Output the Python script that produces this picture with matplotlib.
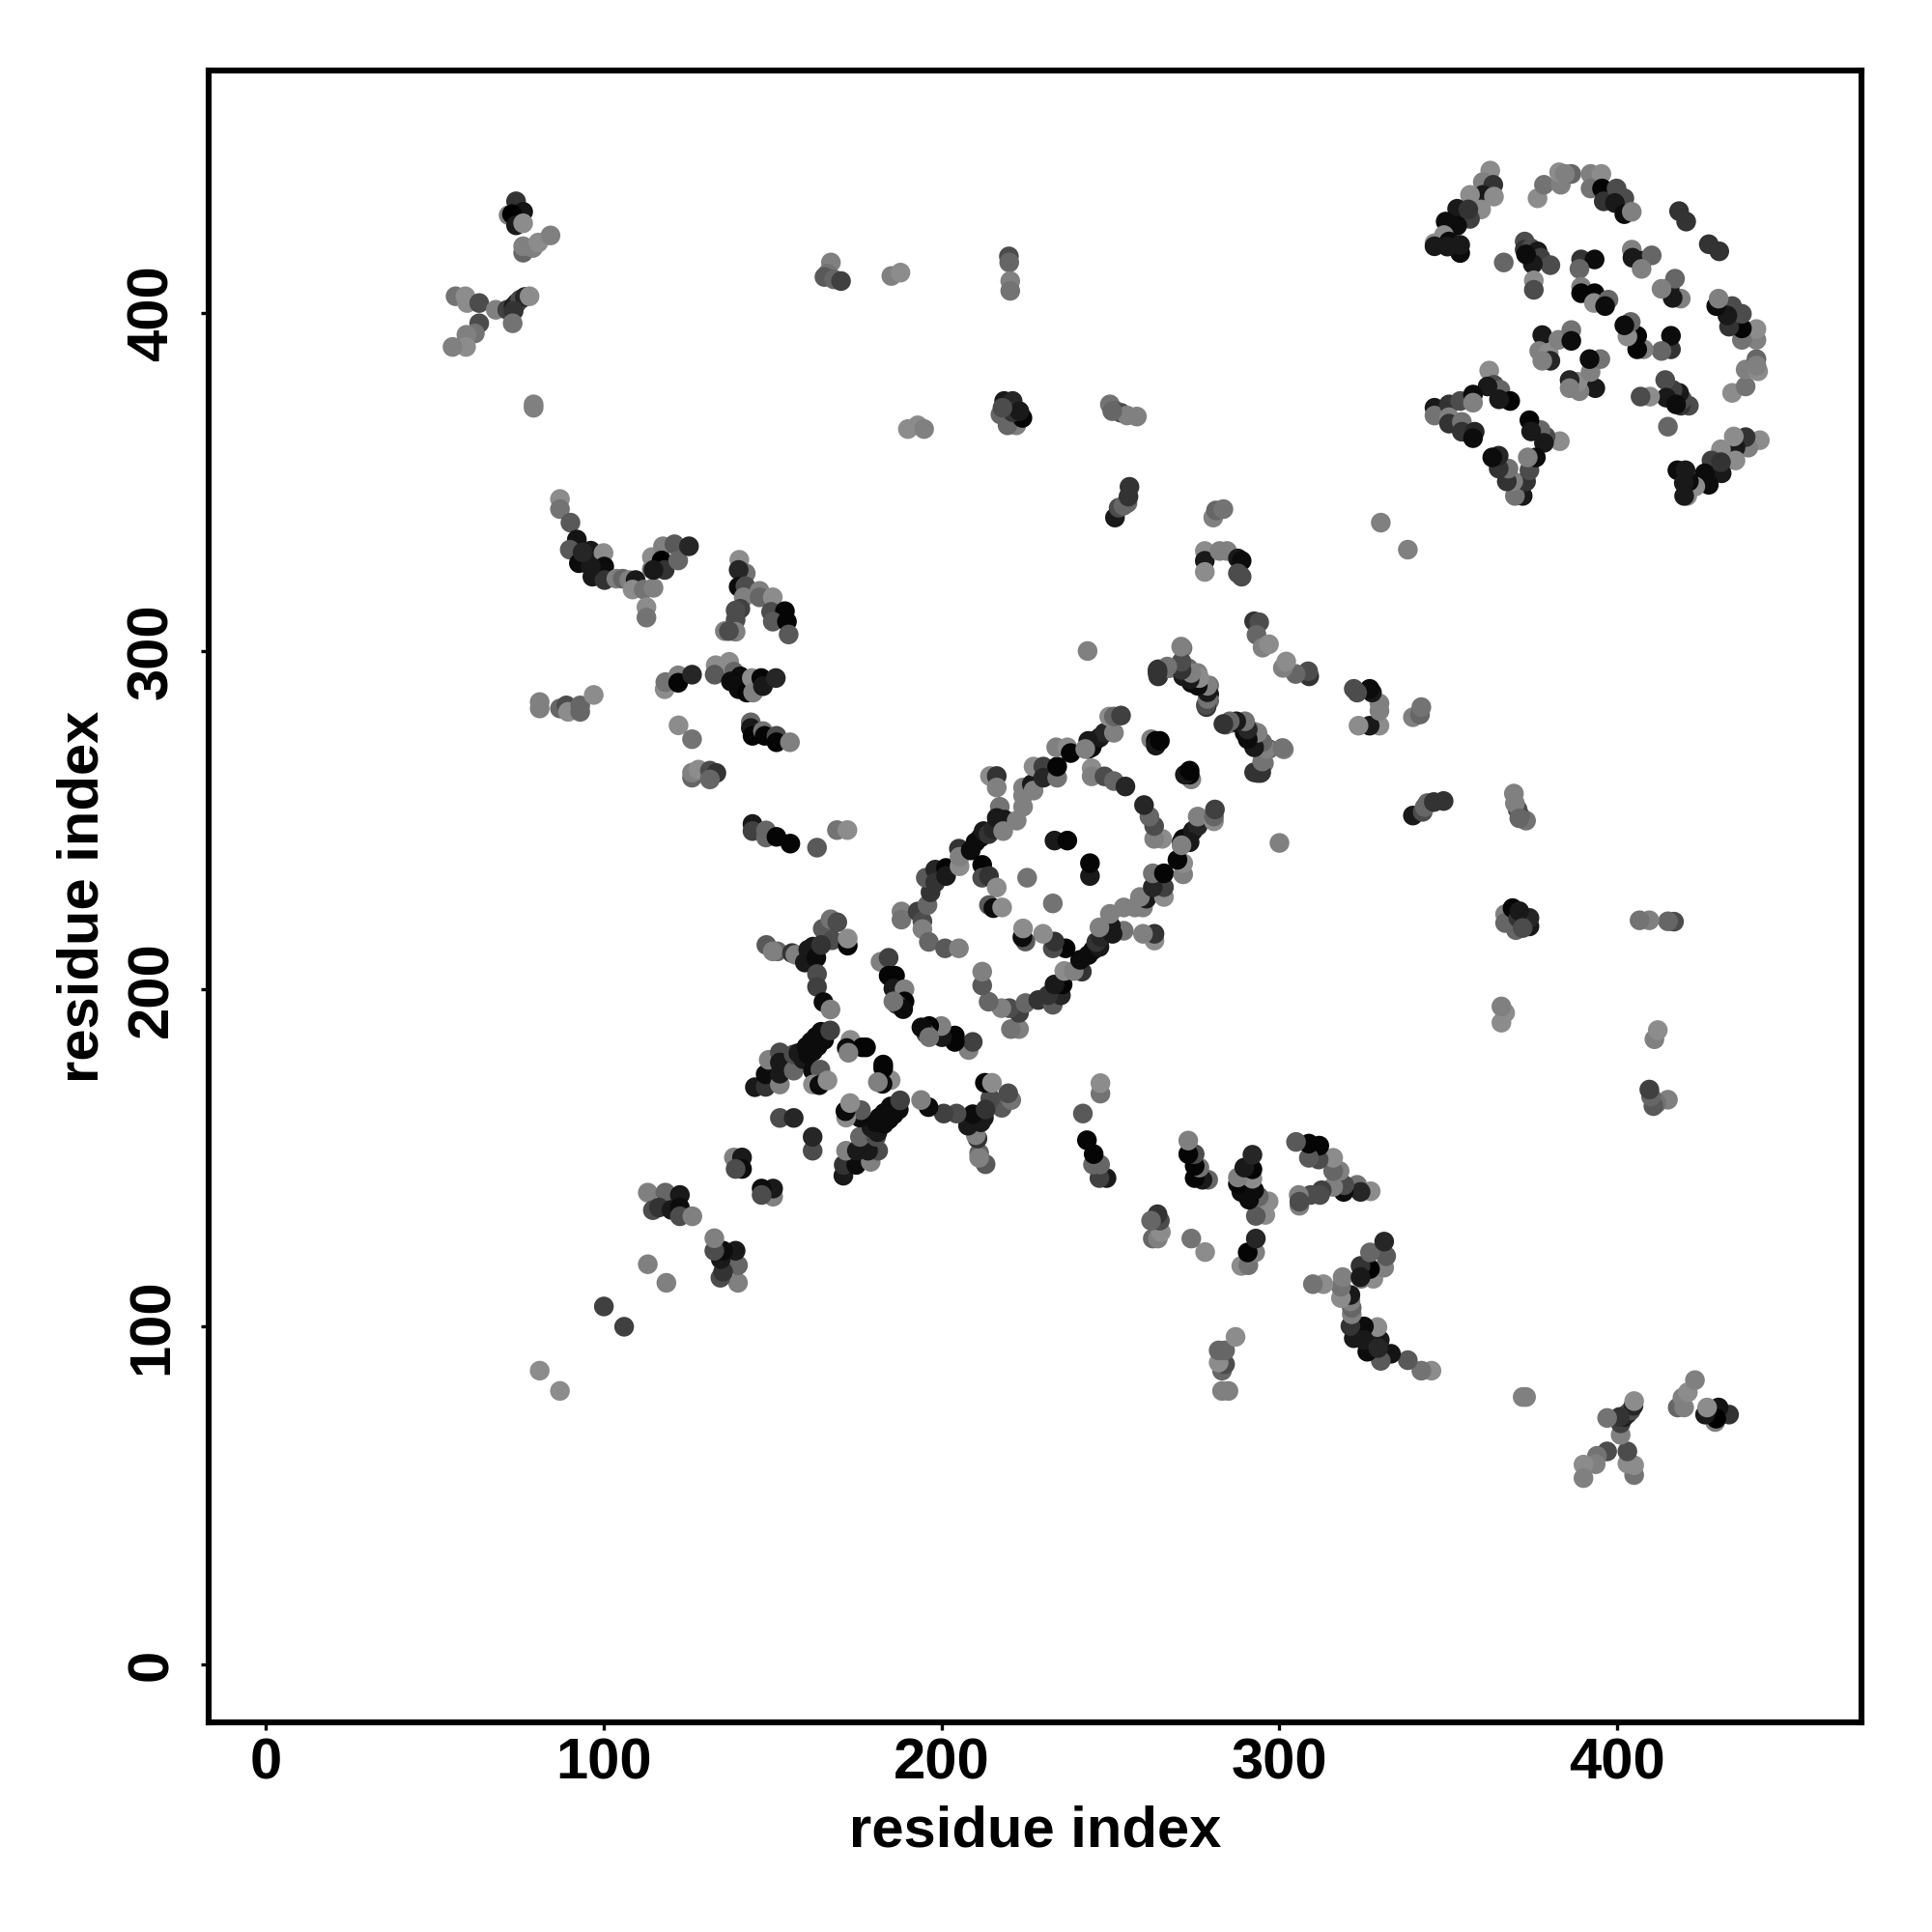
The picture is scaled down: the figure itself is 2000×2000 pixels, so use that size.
import matplotlib
matplotlib.use("Agg")
import matplotlib.pyplot as plt
import numpy as np

res_i = [
    74, 76.1, 71.8, 72.8, 74, 76.1, 76.1, 76.1, 79, 80.6, 84.2,
    56.1, 59, 59.5, 63.1, 68, 71.4, 73.3, 74.2, 75.2, 76.6, 78, 73.3, 73, 63.1, 61.8, 59.3, 59.2, 55.2,
    79.2, 79.2,
    167.2, 166.2, 165.3, 168.1, 170.2, 185.1, 187.8,
    87, 87, 90.1, 92, 89.9, 92.6, 96.1, 96.6, 99.9, 100.1, 100.2, 96.1, 93.7,
    103.7, 105.6, 107.5, 109.4, 108.5, 111.8, 114.7, 112.6, 112.6,
    114.2, 114.2, 117.5, 117.1, 118, 120.9, 122, 125.2, 114.7,
    140.1, 142, 139.9, 139.9, 141.9, 141.4, 146.1, 146.1, 150, 140.4, 139, 139, 135.8, 139, 137,
    149.5, 153.6, 150, 154.2, 154.7,
    118, 118.2, 122, 122, 126.1,
    133.1, 132.8, 137.1, 138.5, 137.6, 140.4, 139.9, 142.3, 143.8, 144.2, 146.6, 147.1, 150.9,
    81, 81, 87, 88.9, 89.4, 93, 93, 97,
    122.1, 126.1,
    143.5, 143.5, 144, 147.1, 147.6, 151.1, 151.1, 155.1,
    126.1, 126.1, 128, 131.4, 133.3, 131.4,
    144, 144, 148, 148, 151.1, 155.2, 163.1, 169, 172.1,
    219.9, 220, 220.3, 220.3,
    190, 192.9, 194.8,
    217.4, 218.5, 221, 222.1, 219.5, 223.9, 221, 223, 218,
    249.8, 251.3, 253.1, 254.9, 257.8, 250.5,
    251.3, 252.4, 253.8, 255, 255.6, 255.3,
    280.4, 281.2, 283.4,
    330,
    277.9, 277.9, 277.9, 282.3, 284.5, 287.7, 288.8, 287.7, 288.8,
    292.5, 294, 293.2, 295, 296.9,
    243.2,
    264.1, 264.1, 267.3, 271, 273, 271.5, 275.8, 273.9, 276.8, 279.2, 279.2, 279.2, 278.4, 271.3,
    284, 285.8, 287.8, 289.7, 289.7, 292, 291.6, 293.5, 294.4, 296.8, 301.3, 295.4, 294.4, 293.5,
    148.1, 151.4, 150, 155.7, 156.7, 159.5, 160.5, 161.9, 162.9, 163.1, 163.1, 164.8, 167.1, 169.1, 167.6, 172.2, 172.2, 164.3,
    165, 167.1,
    144.7, 147.9, 147.9, 148.8, 152.1, 152.1, 152.1, 152.1, 156.2, 156.2, 157.6, 159, 160, 160.5, 161.4, 161.9, 162.8, 163.3, 164.3, 165.2, 167,
    161.9, 164.1, 161.9, 163.8, 166.2,
    173, 171.9, 176.5, 177.6, 172.4,
    152.1, 156.2,
    138.5, 140.9, 140.9, 139,
    181.9, 184.3, 184.3, 186.2, 185.7, 189, 189, 186.7, 188.6, 185.7,
    188.1, 188.1, 192.9, 194.3, 194.3, 196.2, 201, 205.1,
    195.8, 196.7, 195.3, 198.1, 201.3, 198.1, 201.3, 205.3, 205.1, 205.3, 208.6, 210, 211.5, 212.4, 213.9, 215.3,
    217.2, 216.3, 218.6, 218.2, 222.2,
    212, 212, 214, 216.3, 214, 215.3, 217.9,
    214.3, 216.3, 216.3,
    224.1, 224.1, 224.1, 226.7, 227.2, 227.2, 230.1, 230.1, 234.2, 234.2, 233.9, 237.2, 238.2,
    243.4, 245.3, 244.4, 246.8, 248.2, 251, 249.6, 251, 253.1, 243.4, 242.5,
    244.4, 244.4, 248.2, 251, 254.4,
    262, 263.4, 263.4, 264.6,
    233.4, 237.2, 225.3,
    113, 114.5, 118.2, 116.3, 120, 122.5, 122.5, 122.5, 126.2,
    100, 113, 81,
    362.4, 360.2, 363.3, 360.2, 363.5, 356.4, 359.7, 352.6, 356.4, 355.9, 349.2, 352.6, 348.7, 345.9, 350.2, 345.9, 353.5, 353.5, 349.7,
    376.4, 378.3, 383.3, 382.8, 386.4, 384.5,
    392.1, 395.3, 392.1, 395.5, 396, 399.8, 402.1, 399.3, 402.1, 404.3,
    418.3, 420.4,
    366.4, 372.6, 372.6, 374.5, 376.4, 377.3, 380.2, 375, 375.3, 375.3, 373,
    389.3, 393.3, 388.8, 389.3, 389.3, 393.3, 393.1, 397.4, 396.4,
    404.3, 404.5, 407.4, 410.2, 407.2,
    377.8, 376.9, 379.7, 380.2, 377.8, 382.6, 386.4, 386.4,
    362.1, 363.5, 365.4, 368.3, 361.6, 365,
    345.9, 345.9, 350.2, 350.2, 353.5, 357.3, 357.3, 350.2, 354, 354, 357.8, 357.3,
]
res_j = [
    433.1, 430, 429, 429.3, 426, 426.6, 417.9, 419.8, 419.3, 420.9, 423,
    405, 405, 403, 403, 401, 401, 402, 403, 404, 404.8, 405, 400.7, 397, 397, 394, 393.6, 390, 390,
    373, 372,
    415, 411.7, 410.7, 410, 409.5, 411, 412,
    345, 342, 338, 333, 330, 326, 329.7, 322, 329, 325, 321, 325, 329.2,
    321.4, 321.4, 321, 321, 318.2, 318.2, 318.7, 313, 309.9,
    324.2, 327.8, 331, 326.8, 324, 331.6, 326.8, 331, 324,
    327, 323, 324, 319, 319.2, 315.9, 317.8, 315.9, 315.9, 312.5, 312, 309.2, 305.9, 305.7, 305.9,
    311.6, 311.8, 308.7, 308.7, 304.9,
    288.7, 290.8, 292.8, 290.6, 293,
    295.8, 293, 296.8, 293.9, 291, 292.5, 288.7, 287.7, 292, 287.7, 292, 289.6, 292,
    284.9, 283, 283, 283.9, 282, 283.9, 282, 287,
    278, 273.9,
    278.9, 277.2, 274.9, 276.3, 274.9, 274.9, 273, 273,
    262.5, 264, 264.9, 264.6, 263.9, 262,
    248.8, 246.7, 246.9, 244.8, 245, 243, 241.8, 247, 247,
    416.8, 415, 409.5, 406.6,
    365.7, 366.8, 365.7,
    370, 374, 374, 366.8, 366.8, 369, 370.7, 371, 372,
    373, 371.2, 370.5, 369.7, 369.4, 371,
    339.5, 342.4, 343, 343.8, 348.6, 345.7,
    339.5, 341.6, 342,
    338,
    329.6, 326.7, 323.4, 329.6, 329.6, 327.4, 326.7, 323, 322,
    308.8, 308.5, 304.8, 301, 302,
    300,
    294.6, 292.5, 294.9, 296.3, 294.9, 292.5, 293.5, 290.6, 290.6, 289.8, 287.2, 285.3, 283.4, 300.9,
    278.2, 278.7, 278.7, 278.7, 275.8, 276.3, 273.4, 273.9, 271, 271, 270.9, 266.8, 263.9, 263.9,
    213, 211.1, 211.1, 210.6, 210.1, 207.8, 211.6, 212.5, 209.2, 204.4, 200.6, 217.8, 220.6, 219.7, 214.4, 212.8, 214.9, 213,
    196.1, 193.9,
    170.9, 171, 174.7, 179, 181.2, 178.2, 171.7, 174.9, 175.8, 180.6, 181, 179.2, 182.9, 180.6, 184.4, 181.5, 185.8, 183, 187.3, 184.9, 187.7,
    175.8, 176.1, 171.7, 171.5, 172.9,
    184.9, 182.5, 182.7, 182.7, 181.1,
    161.8, 161.8,
    150.1, 150.1, 146.7, 146.7,
    208, 209.2, 203.9, 203.9, 200.1, 199.9, 196.3, 195.4, 194, 196.3,
    222.9, 220.5, 222.9, 220, 217.7, 213.9, 212, 212,
    224.8, 228.6, 232.9, 235.3, 235.8, 231.5, 233.4, 236.3, 241.5, 239.1, 241, 243.4, 244.8, 246.7, 245.8, 247.2,
    253.9, 250.6, 250.1, 246.7, 249.8,
    236.7, 232.9, 233.4, 230, 224.8, 223.9, 224.1,
    263, 263, 259.6,
    259.6, 257.2, 253.9, 260.6, 258.7, 265.8, 265.8, 262.5, 262.5, 265.8, 271.5, 271.5, 269.8,
    271, 273.4, 271.5, 274.4, 275.8, 275.8, 280.6, 280.6, 280.9, 273.4, 271,
    265.3, 262.9, 262.9, 261.5, 259.9,
    273.9, 273.4, 272, 273.4,
    243.9, 243.9, 232.9,
    139.7, 134.5, 139.7, 135.3, 134.6, 139, 135.3, 132.7, 132.7,
    106, 118.5, 87,
    442.2, 438.8, 438, 435, 434.5, 435, 430.7, 430.9, 427.9, 430.7, 427.1, 425.9, 423.1, 420.7, 421.2, 419.8, 417.8, 420.2, 419.7,
    434, 438, 438, 441.7, 441.2, 441.2,
    441.2, 441.2, 436.9, 436.9, 433.1, 436.9, 434, 432.6, 429.3, 430,
    430.2, 427.1,
    415, 421.2, 418.8, 419.2, 418.3, 416.4, 414.2, 414.5, 409.7, 406.9, 417.4,
    415.9, 415.9, 413.1, 407.8, 405.9, 405.9, 403, 404, 402.1,
    418.8, 416.4, 415.5, 417.1, 413.1,
    393.5, 388.8, 388.3, 385.9, 385.9, 392.1, 395, 391.8,
    383, 378.8, 377.3, 374, 378.3, 374.5,
    372, 369.7, 373, 369.2, 374, 375.9, 373.5, 367.3, 367.8, 364.9, 364.9, 363,
]
gray_level = [
    .2, .08, .5, 0, .1, .55, .4, .5, .5, .55, .5,
    .45, .55, .55, .3, .5, .25, .1, .15, .3, .15, .55, .2, .45, .3, .45, .5, .55, .5,
    .5, .5,
    .5, .45, .35, .4, .25, .5, .55,
    .55, .45, .35, .08, .35, .05, .1, .1, .55, .05, .2, .1, .15,
    .5, .4, .5, .1, .55, .45, .5, .55, .45,
    .45, .55, .5, 0, .2, .35, .4, .15, .1,
    .55, .45, .15, .05, .3, .5, .5, .4, .55, .25, .3, .3, .5, .5, .3,
    .3, .02, .35, .02, .35,
    .55, .45, .5, .02, .15,
    .55, .35, .55, .4, .05, .05, .05, .02, .55, .5, .02, .1, .15,
    .5, .5, .4, .3, .55, .4, .4, .55,
    .55, .45,
    .4, .1, .02, .45, .02, .3, .02, .5,
    .4, .5, .55, .3, .2, .4,
    .1, .25, .4, .4, .02, .02, .35, .45, .55,
    .3, .4, .5, .45,
    .55, .55, .5,
    .4, .1, .15, .5, .4, .02, .2, .1, .3,
    .45, .4, .3, .5, .5, .4,
    .1, .3, .4, .4, .2, .2,
    .5, .4, .45,
    .5,
    .55, .1, .55, .5, .5, .1, .05, .3, .3,
    .2, .3, .4, .5, .55,
    .5,
    .2, .2, .45, .5, .4, .1, .5, .05, .15, .45, .1, .4, .2, .45,
    .3, .45, .1, .5, .05, .55, .1, .5, .2, .3, .5, .45, .2, .2,
    .35, .4, .5, .2, .5, .1, .1, .1, .05, .3, .25, .35, .45, .3, .3, .02, .55, .2,
    .05, .5,
    .1, .2, .05, .5, .3, .1, .5, .1, .4, .3, .1, .1, .05, .05, .05, .05, .05, .05, .05, .05, .25,
    .05, .35, .55, .05, .55,
    .55, .05, .02, .02, .5,
    .3, .15,
    .5, .1, .05, .3,
    .5, .25, .02, .02, .1, .5, .02, .3, .05, .45,
    .5, .45, .25, .3, .5, .4, .35, .5,
    .4, .2, .35, .15, .02, .2, .1, .55, .2, .5, .05, .05, .05, .1, .2, .15,
    .45, .1, .1, .5, .5,
    .02, .3, .2, .55, .35, .05, .55,
    .55, .2, .5,
    .5, .5, .5, .1, .5, .55, .25, .15, .45, .02, .5, .55, .02,
    .05, .05, .05, .1, .15, .5, .55, .4, .25, .1, .5,
    .55, .5, .3, .4, .15,
    .5, .02, .1, .02,
    .1, .02, .45,
    .5, .3, .4, .2, .1, .1, .05, .3, .5,
    .25, .5, .55,
    .55, .5, .2, .1, .55, .55, .55, .1, .25, .2, .05, .05, .55, .55, .05, .1, .05, .1, .1,
    .55, .45, .5, .55, .4, .5,
    .5, .55, .45, .02, .2, .3, .3, .1, .05, .5,
    .2, .2,
    .4, .3, .2, .3, .1, .25, .3, .1, .55, .3, .05,
    .2, .05, .4, .5, .02, .02, .55, .4, .05,
    .5, .1, .1, .4, .5,
    .1, .5, .55, .15, .5, .5, .45, .05,
    .55, .3, .4, .02, .1, .1,
    .1, .45, .2, .5, .3, .05, .5, .2, .45, .2, .15, .05,
]

ticks = [0, 100, 200, 300, 400]

i = np.array(res_i)
j = np.array(res_j)
g = np.array(gray_level)

fig = plt.figure(figsize=(10, 10), dpi=200)
ax = fig.add_axes([216 / 2000, 1 - 1783 / 2000, (1927 - 216) / 2000, (1783 - 72.7) / 2000])

# both triangles
ax.scatter(np.concatenate([i, j]), np.concatenate([j, i]), c=np.concatenate([g, g]),
           cmap="gray", vmin=0, vmax=1, s=54, linewidths=0)

ax.set_xlim(-17.0, 472.3)
ax.set_ylim(-17.1, 471.9)

ax.set_xticks(ticks)
ax.set_yticks(ticks)
ax.set_xticklabels([str(t) for t in ticks], fontfamily="Liberation Sans", fontweight="bold", fontsize=21.5)
ax.set_yticklabels([str(t) for t in ticks], fontfamily="Liberation Sans", fontweight="bold", fontsize=21.5,
                   rotation=90, va="center")
ax.tick_params(axis="x", length=3, width=1.2, pad=2.5)
ax.tick_params(axis="y", length=3, width=1.2, pad=8)

for s in ax.spines.values():
    s.set_linewidth(2.2)

ax.set_xlabel("residue index", fontfamily="Liberation Sans", fontweight="bold", fontsize=21.5, labelpad=5.5)
ax.set_ylabel("residue index", fontfamily="Liberation Sans", fontweight="bold", fontsize=21.5, labelpad=6)

fig.savefig("out.png", dpi=200)
